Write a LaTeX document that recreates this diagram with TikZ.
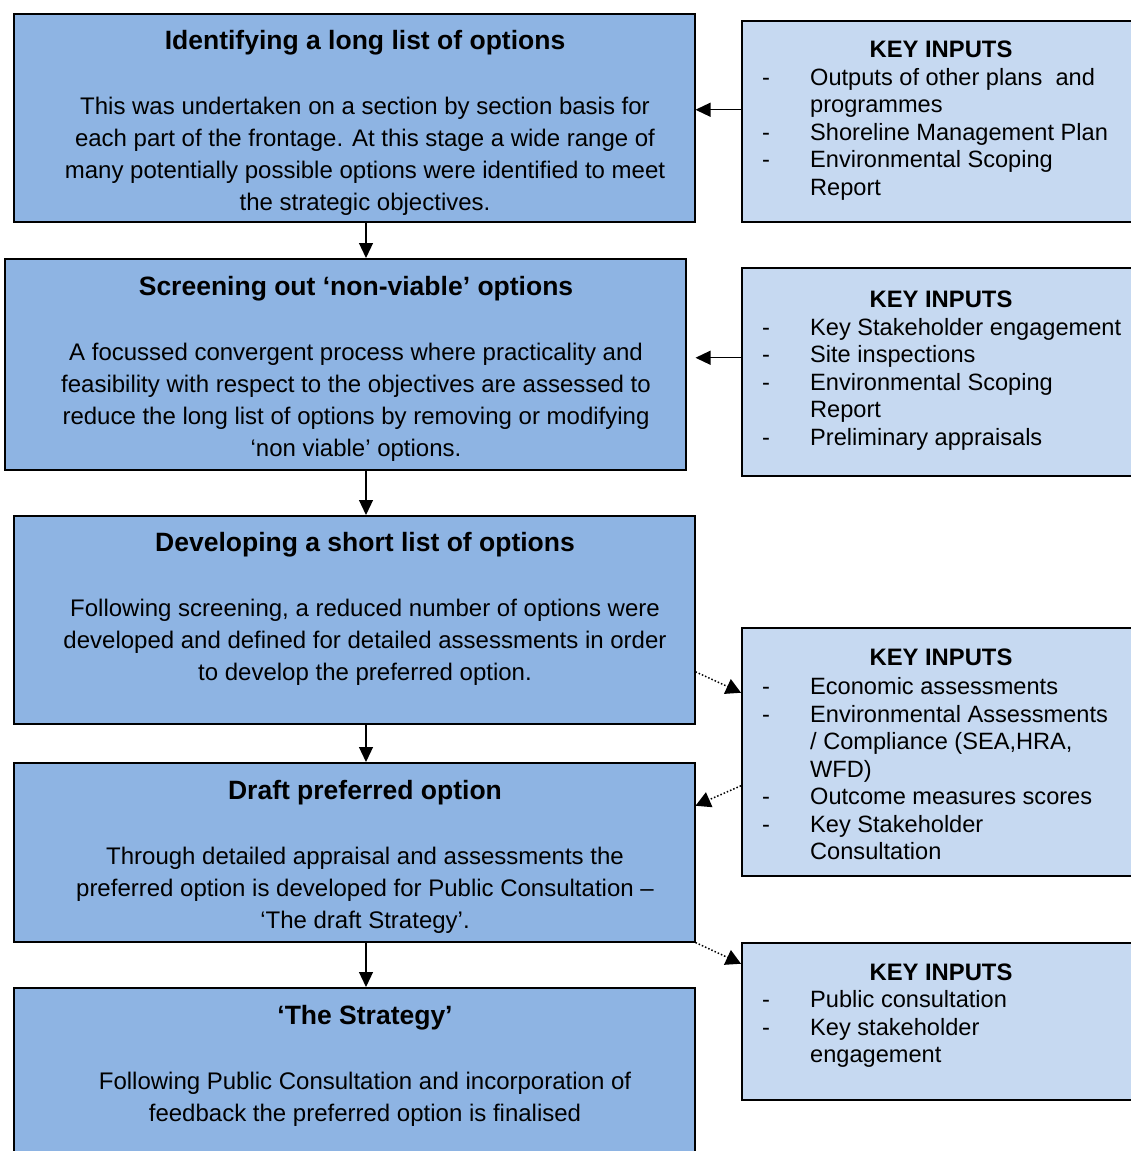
\documentclass[tikz,border=0pt]{standalone}
\usepackage{fontspec}
\setmainfont{Liberation Sans}
\usetikzlibrary{arrows.meta}

\definecolor{stagefill}{HTML}{8EB4E3}
\definecolor{inputfill}{HTML}{C6D9F1}

\newcommand{\dashitem}[1]{\makebox[48pt][l]{-}#1}
\newcommand{\dashmore}[1]{\hspace*{48pt}#1}

\tikzset{
  stagebox/.style={draw, line width=1.5pt, fill=stagefill, anchor=north west, inner sep=0},
  inputbox/.style={draw, line width=1.5pt, fill=inputfill, anchor=north west, inner sep=0},
  stagehead/.style={font=\fontsize{26.5}{30}\selectfont\bfseries, inner sep=0},
  stagetext/.style={font=\fontsize{24}{32}\selectfont, align=center, inner sep=0},
  inputhead/.style={font=\fontsize{23.8}{27.5}\selectfont\bfseries, inner sep=0},
  inputtext/.style={font=\fontsize{23.6}{27.5}\selectfont, align=left, inner sep=0, anchor=west},
  arr/.style={line width=1.2pt, -{Triangle[width=14pt,length=15pt]}},
  dotarr/.style={line width=1.5pt, dotted, -{Triangle[width=16pt,length=15pt]}}
}

\begin{document}
\begin{tikzpicture}[x=1pt,y=-1pt]
  \useasboundingbox (0,0) rectangle (1131,1151);
  \coordinate (col) at (366,0);

  % stages
  \node[stagebox, minimum width=681, minimum height=208] (s1) at (13,13) {};
  \node[stagebox, minimum width=681, minimum height=211] (s2) at (4,258) {};
  \node[stagebox, minimum width=681, minimum height=208] (s3) at (13,515) {};
  \node[stagebox, minimum width=681, minimum height=179] (s4) at (13,762) {};
  \node[stagebox, minimum width=681, minimum height=190] (s5) at (13,987) {};

  % key inputs
  \node[inputbox, minimum width=410, minimum height=201] (r1) at (741,20) {};
  \node[inputbox, minimum width=410, minimum height=208] (r2) at (741,267) {};
  \node[inputbox, minimum width=410, minimum height=248] (r3) at (741,627) {};
  \node[inputbox, minimum width=410, minimum height=157] (r4) at (741,942) {};

  \node[stagehead] (s1h) at (365,43) {Identifying a long list of options};
  \node[stagetext] (s1t) at (365,156) {This was undertaken on a section by section basis for\\
    each part of the frontage. At this stage a wide range of\\
    many potentially possible options were identified to meet\\
    the strategic objectives.};

  \node[stagehead] (s2h) at (356,289) {Screening out `non-viable' options};
  \node[stagetext] (s2t) at (356,402) {A focussed convergent process where practicality and\\
    feasibility with respect to the objectives are assessed to\\
    reduce the long list of options by removing or modifying\\
    `non viable' options.};

  \node[stagehead] (s3h) at (365,545) {Developing a short list of options};
  \node[stagetext] (s3t) at (365,642) {Following screening, a reduced number of options were\\
    developed and defined for detailed assessments in order\\
    to develop the preferred option.};

  \node[stagehead] (s4h) at (365,793) {Draft preferred option};
  \node[stagetext] (s4t) at (365,890) {Through detailed appraisal and assessments the\\
    preferred option is developed for Public Consultation --\\
    `The draft Strategy'.};

  \node[stagehead] (s5h) at (365,1018) {`The Strategy'};
  \node[stagetext] (s5t) at (365,1099) {Following Public Consultation and incorporation of\\
    feedback the preferred option is finalised};

  \node[inputhead] (r1h) at (941,49) {KEY INPUTS};
  \node[inputtext] (r1t) at (762,134) {\dashitem{Outputs of other plans\ \ and}\\
    \dashmore{programmes}\\
    \dashitem{Shoreline Management Plan}\\
    \dashitem{Environmental Scoping}\\
    \dashmore{Report}};

  \node[inputhead] (r2h) at (941,299) {KEY INPUTS};
  \node[inputtext] (r2t) at (762,384) {\dashitem{Key Stakeholder engagement}\\
    \dashitem{Site inspections}\\
    \dashitem{Environmental Scoping}\\
    \dashmore{Report}\\
    \dashitem{Preliminary appraisals}};

  \node[inputhead] (r3h) at (941,657) {KEY INPUTS};
  \node[inputtext] (r3t) at (762,769) {\dashitem{Economic assessments}\\
    \dashitem{Environmental Assessments}\\
    \dashmore{/ Compliance (SEA,HRA,}\\
    \dashmore{WFD)}\\
    \dashitem{Outcome measures scores}\\
    \dashitem{Key Stakeholder}\\
    \dashmore{Consultation}};

  \node[inputhead] (r4h) at (941,972) {KEY INPUTS};
  \node[inputtext] (r4t) at (762,1029) {\dashitem{Public consultation}\\
    \dashitem{Key stakeholder}\\
    \dashmore{engagement}};

  % flow down
  \draw[arr] (s1.south -| col) -- (s2.north -| col);
  \draw[arr] (s2.south -| col) -- (s3.north -| col);
  \draw[arr] (s3.south -| col) -- (s4.north -| col);
  \draw[arr] (s4.south -| col) -- (s5.north -| col);

  % inputs feeding in
  \draw[arr] ([yshift=11.5pt]r1.west) coordinate (a1) -- (a1 -| s1.east);
  \draw[arr, shorten >=9pt] ([yshift=14pt]r2.west) coordinate (a2) -- (a2 -| s2.east);
  \draw[dotarr] ([yshift=-52pt]s3.east) -- ([yshift=59pt]r3.west);
  \draw[dotarr] ([yshift=-34pt]r3.west) -- ([yshift=46.5pt]s4.east);
  \draw[dotarr] (s4.south east) -- ([yshift=57.5pt]r4.west);
\end{tikzpicture}
\end{document}
